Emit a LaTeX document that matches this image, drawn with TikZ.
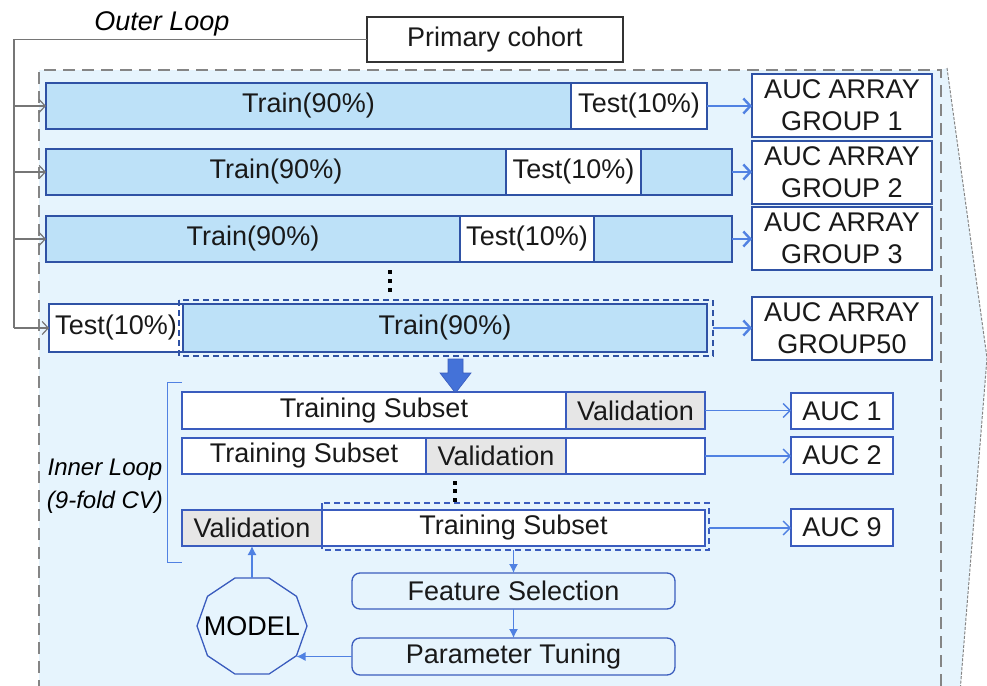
\documentclass[tikz,border=0pt]{standalone}
\usepackage{fontspec}
\setmainfont{Liberation Sans}
\usetikzlibrary{arrows.meta,shapes.geometric}

\definecolor{dkblue}{HTML}{2F52A5}
\definecolor{inblue}{HTML}{3A5CBE}
\definecolor{lnblue}{HTML}{5081E2}
\definecolor{barfill}{HTML}{BDE1F8}
\definecolor{bgfill}{HTML}{E6F4FD}
\definecolor{valgray}{HTML}{E6E6E6}
\definecolor{loopgray}{HTML}{767676}
\definecolor{framegray}{HTML}{858585}
\definecolor{bigarrow}{HTML}{4472D8}

\tikzset{
  cell/.style={anchor=north west, inner sep=0pt, outer sep=0pt, text=black!90},
  obar/.style={cell, draw=dkblue, line width=2.6pt, fill=barfill},
  otest/.style={obar, fill=white},
  grp/.style={cell, draw=dkblue, line width=2.6pt, fill=white, align=center,
    font=\fontsize{27}{32}\selectfont},
  ibar/.style={cell, draw=inblue, line width=1.4pt, fill=white},
  ival/.style={ibar, fill=valgray},
  aucbox/.style={cell, draw=inblue, line width=1.8pt, fill=white},
  flowbox/.style={cell, draw=inblue, line width=1.3pt, fill=bgfill, rounded corners=8pt},
  looparr/.style={draw=loopgray, line width=1.2pt, -{Straight Barb[length=6pt,width=13pt]}},
  grparr/.style={draw=lnblue, line width=2.4pt, -{Straight Barb[length=7pt,width=15pt]}},
  aucarr/.style={draw=lnblue, line width=1.3pt, -{Straight Barb[length=7pt,width=14pt]}},
  flowarr/.style={draw=lnblue, line width=1.2pt, -{Latex[length=9pt,width=9pt]}},
  ellip/.style={fill=black, minimum size=4.5pt, inner sep=0pt}
}

\begin{document}
\begin{tikzpicture}[x=1pt, y=-1pt, font=\fontsize{27}{32}\selectfont]
\useasboundingbox (0,0) rectangle (987,685);

% shaded outer-loop region and the wedge on its right
\fill[bgfill] (39,70) rectangle (941,692);
\fill[bgfill] (941,70) -- (947,68) -- (987,358) -- (960,692) -- (941,692) -- cycle;
\draw[framegray, line width=1pt, dash pattern=on 3pt off 1.5pt]
  (947,68) -- (987,358) -- (960,692);
\draw[framegray, line width=1.8pt, dash pattern=on 12pt off 7pt]
  (39,692) -- (39,70) -- (941,70) -- (941,692);

% labels and source box
\node[font=\fontsize{27}{32}\selectfont\itshape] (outer) at (162,24) {Outer Loop};
\node[cell, draw=black!80, line width=1.5pt, fill=white, minimum width=256pt, minimum height=45pt]
  (pc) at (367,17) {Primary cohort};

% outer folds
\node[obar, minimum width=525pt, minimum height=46pt] (b1tr) at (46,83) {Train(90\%)};
\node[otest, minimum width=136pt, minimum height=46pt] (b1te) at (571,83) {Test(10\%)};

\node[obar, minimum width=460pt, minimum height=46pt] (b2tr) at (46,149) {Train(90\%)};
\node[otest, minimum width=135pt, minimum height=46pt] (b2te) at (506,149) {Test(10\%)};
\node[obar, minimum width=91pt, minimum height=46pt] (b2re) at (641,149) {};

\node[obar, minimum width=414pt, minimum height=46pt] (b3tr) at (46,216) {Train(90\%)};
\node[otest, minimum width=134pt, minimum height=46pt] (b3te) at (460,216) {Test(10\%)};
\node[obar, minimum width=138pt, minimum height=46pt] (b3re) at (594,216) {};

\node[otest, minimum width=134pt, minimum height=48pt] (b4te) at (49,304) {Test(10\%)};
\node[obar, minimum width=524pt, minimum height=48pt] (b4tr) at (183,304) {Train(90\%)};
\draw[dkblue, line width=1.5pt, dash pattern=on 6pt off 4pt] (179,300) rectangle (713,356);

\foreach \y in {272,281,290} \node[ellip] (odot\y) at (390,\y) {};

% AUC array groups
\node[grp, minimum width=180pt, minimum height=63pt] (g1) at (752,74) {AUC ARRAY\\GROUP 1};
\node[grp, minimum width=180pt, minimum height=63pt] (g2) at (752,141) {AUC ARRAY\\GROUP 2};
\node[grp, minimum width=180pt, minimum height=63pt] (g3) at (752,207) {AUC ARRAY\\GROUP 3};
\node[grp, minimum width=180pt, minimum height=63pt] (g50) at (752,297) {AUC ARRAY\\GROUP50};

\draw[grparr] (b1te.east) -- (g1.west |- b1te.east);
\draw[grparr] (b2re.east) -- (g2.west |- b2re.east);
\draw[grparr] (b3re.east) -- (g3.west |- b3re.east);
\draw[grparr] (b4tr.east) ++(6,0) -- (g50.west |- b4tr.east);

% outer loop distribution lines
\coordinate (spine) at (14,40);
\draw[loopgray, line width=1.2pt] (pc.west) -- (spine |- pc.west) -- (spine |- b4te.west);
\draw[looparr] (spine |- b1tr.west) -- (b1tr.west);
\draw[looparr] (spine |- b2tr.west) -- (b2tr.west);
\draw[looparr] (spine |- b3tr.west) -- (b3tr.west);
\draw[looparr] (spine |- b4te.west) -- (b4te.west);

% block arrow into the inner loop
\fill[bigarrow, draw=inblue, line width=0.6pt]
  (448,359) -- (463,359) -- (463,373) -- (471,373) -- (455.5,393) -- (440,373) -- (448,373) -- cycle;

% inner loop bracket and label
\draw[lnblue, line width=1pt] (182,382) -- (167,382) -- (167,562) -- (182,562);
\node[font=\fontsize{24}{33}\selectfont\itshape, align=center] (inner) at (105,486) {Inner Loop\\(9-fold CV)};

% inner folds
\node[ibar, minimum width=384pt, minimum height=37pt] (r1t) at (182,392) {Training Subset};
\node[ival, minimum width=139pt, minimum height=37pt] (r1v) at (566,392) {Validation};

\node[ibar, minimum width=244pt, minimum height=36pt] (r2t) at (182,438) {Training Subset};
\node[ival, minimum width=140pt, minimum height=36pt] (r2v) at (426,438) {Validation};
\node[ibar, minimum width=139pt, minimum height=36pt] (r2r) at (566,438) {};

\node[ival, minimum width=140pt, minimum height=36pt] (r3v) at (182,510) {Validation};
\node[ibar, minimum width=383pt, minimum height=36pt] (r3t) at (322,510) {Training Subset};
\draw[inblue, line width=1.3pt, dash pattern=on 6pt off 4pt] (322,503) rectangle (709,550);

\foreach \y in {483,491,500} \node[ellip] (idot\y) at (455,\y) {};

% per-fold AUC
\node[aucbox, minimum width=102pt, minimum height=36pt] (a1) at (791,393) {AUC 1};
\node[aucbox, minimum width=102pt, minimum height=37pt] (a2) at (791,437) {AUC 2};
\node[aucbox, minimum width=102pt, minimum height=37pt] (a9) at (791,509) {AUC 9};

\draw[aucarr] (r1v.east) -- (a1.west |- r1v.east);
\draw[aucarr] (r2r.east) -- (a2.west |- r2r.east);
\draw[aucarr] (r3t.east) ++(4,0) -- (a9.west |- r3t.east);

% model building
\node[flowbox, minimum width=323pt, minimum height=36pt] (fs) at (352,573) {Feature Selection};
\node[flowbox, minimum width=323pt, minimum height=37pt] (pt) at (352,638) {Parameter Tuning};

% decagon outline of the model (slightly flattened)
\draw[inblue, line width=1.3pt, fill=bgfill]
  plot[samples at={0,36,...,324}] ({252+55*cos(\x)},{626-50.5*sin(\x)}) -- cycle;
\node[inner sep=0pt] (model) at (252,626) {MODEL};
\coordinate (modeltop) at (252,578);
\coordinate (modelse) at (296.5,656.5);

\draw[flowarr] (r3t.south) ++(0,4) -- (fs.north);
\draw[flowarr] (fs.south) -- (pt.north);
\draw[flowarr] (pt.west) -- (modelse);
\draw[flowarr] (modeltop) -- (r3v.south);
\end{tikzpicture}
\end{document}
